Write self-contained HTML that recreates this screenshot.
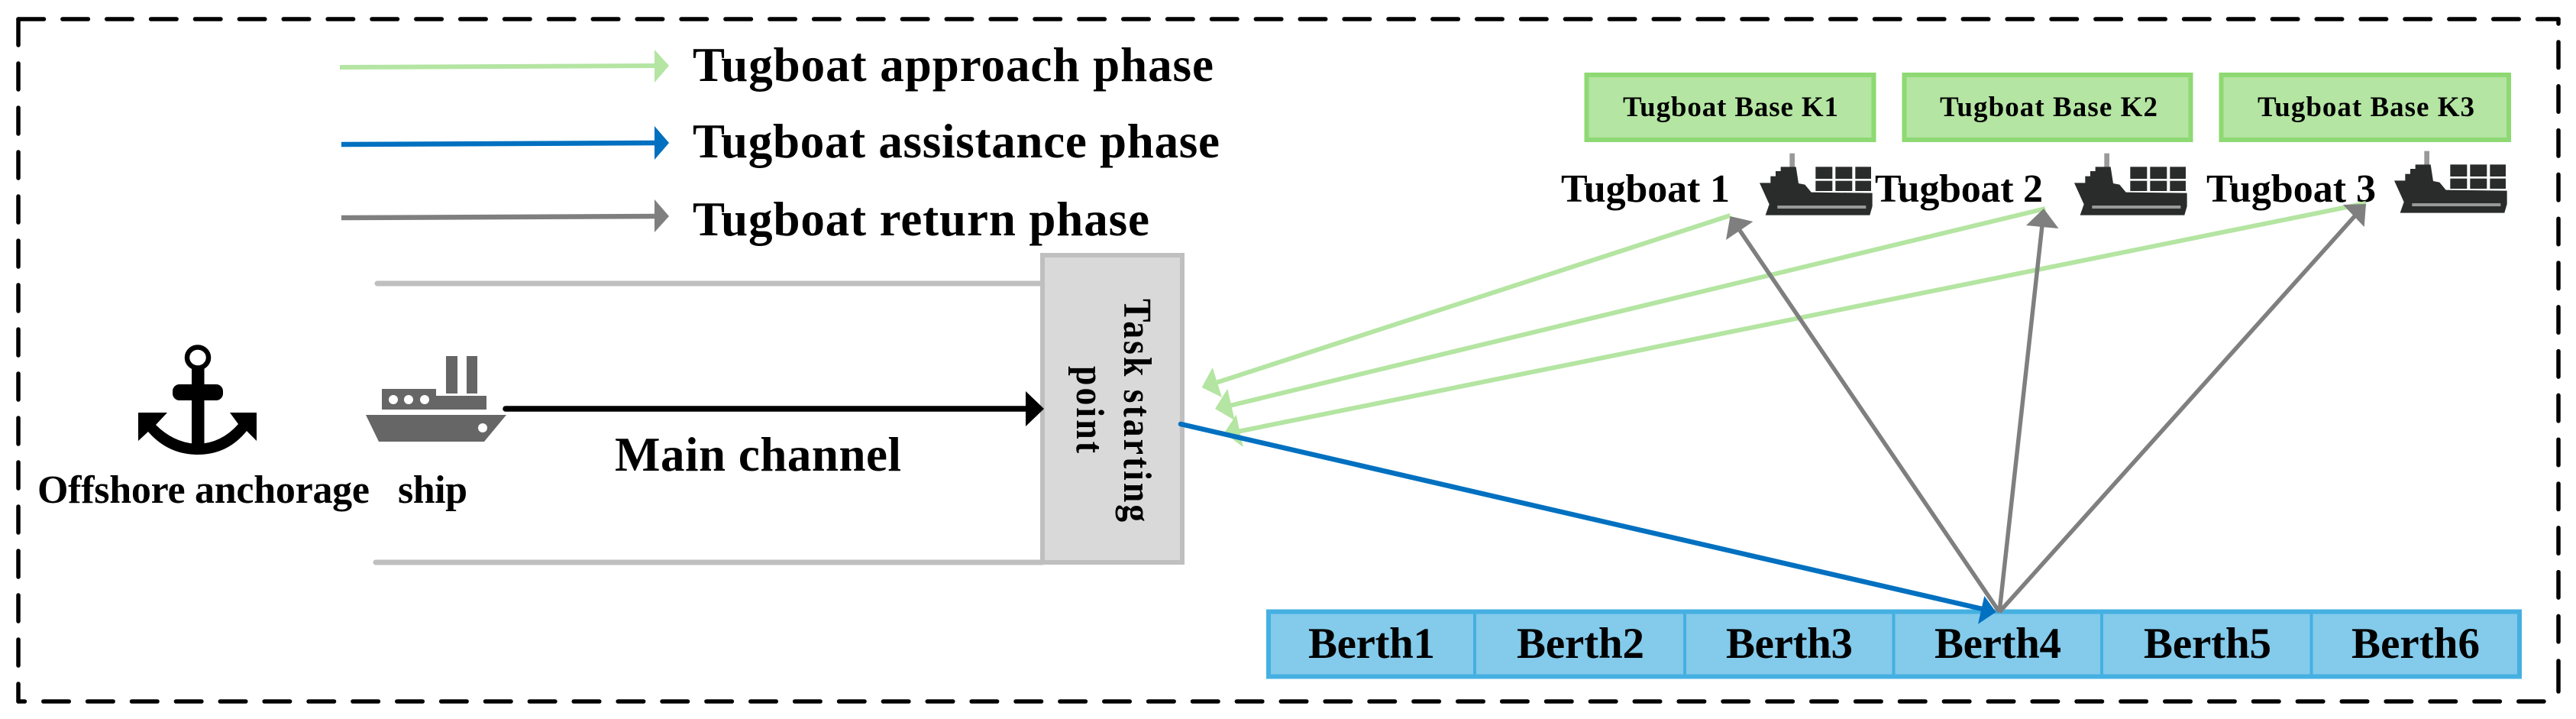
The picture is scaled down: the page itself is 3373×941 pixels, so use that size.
<!DOCTYPE html>
<html lang="en">
<head>
<meta charset="utf-8">
<title>Tugboat phases diagram</title>
<style>
html,body{margin:0;padding:0;background:#fff;}
svg{display:block;}
text{font-family:"Liberation Serif",serif;font-weight:bold;fill:#000;}
</style>
</head>
<body>
<svg xmlns="http://www.w3.org/2000/svg" width="3373" height="941" viewBox="0 0 3373 941">
<defs>
<g id="tug">
  <rect x="190" y="62" width="20" height="55" fill="#999"/>
  <polygon fill="#2a2c2c" points="72,178 115,178 115,152 135,152 135,132 155,132 155,115 215,115 225,180 250,185 275,215 515,218 515,270 505,305 95,305 110,262"/>
  <rect x="142" y="267" width="348" height="12" fill="#999"/>
  <g fill="#2a2c2c">
    <rect x="292" y="115" width="66" height="47"/><rect x="370" y="115" width="66" height="47"/><rect x="448" y="115" width="62" height="47"/>
    <rect x="292" y="170" width="66" height="40"/><rect x="370" y="170" width="66" height="40"/><rect x="448" y="170" width="62" height="40"/>
  </g>
</g>
</defs>

<!-- outer dashed frame -->
<g fill="none" stroke="#000" stroke-width="5.5" stroke-linecap="round">
  <line x1="24" y1="25" x2="3350" y2="25" stroke-dasharray="33.5 24.37"/>
  <line x1="24" y1="25" x2="24" y2="918" stroke-dasharray="34 24"/>
  <line x1="24" y1="918" x2="3331" y2="918" stroke-dasharray="33.5 24.375" stroke-dashoffset="25.1"/>
  <line x1="3350" y1="25" x2="3350" y2="31"/>
  <line x1="3350" y1="55" x2="3350" y2="845" stroke-dasharray="33.5 24.3"/>
  <line x1="3350" y1="865" x2="3350" y2="905"/>
</g>

<!-- legend -->
<line x1="445" y1="88" x2="860" y2="86" stroke="#b4e5a2" stroke-width="6"/>
<polygon points="876,86 857,65 857,108" fill="#b4e5a2"/>
<line x1="447" y1="189" x2="860" y2="187" stroke="#0070c0" stroke-width="6.5"/>
<polygon points="876,187 857,165 857,209" fill="#0070c0"/>
<line x1="447" y1="285" x2="860" y2="283" stroke="#7f7f7f" stroke-width="6.5"/>
<polygon points="876,283 857,261 857,304" fill="#7f7f7f"/>
<text x="907" y="106" font-size="63" textLength="682" lengthAdjust="spacing">Tugboat approach phase</text>
<text x="907" y="206" font-size="63" textLength="690" lengthAdjust="spacing">Tugboat assistance phase</text>
<text x="907" y="308" font-size="63" textLength="598" lengthAdjust="spacing">Tugboat return phase</text>

<!-- channel -->
<line x1="494" y1="371" x2="1365" y2="371" stroke="#bfbfbf" stroke-width="7" stroke-linecap="round"/>
<line x1="492" y1="736" x2="1365" y2="736" stroke="#bfbfbf" stroke-width="7" stroke-linecap="round"/>
<rect x="1365" y="334" width="183" height="402" fill="#d9d9d9" stroke="#bfbfbf" stroke-width="6"/>
<text transform="translate(1472,391) rotate(90) scale(.88,1)" font-size="52" textLength="332" lengthAdjust="spacing">Task starting</text>
<text transform="translate(1410,479) rotate(90) scale(.88,1)" font-size="52" textLength="129.5" lengthAdjust="spacing">point</text>

<!-- anchor -->
<g fill="#000">
  <ellipse cx="259" cy="468" rx="14" ry="13.5" fill="none" stroke="#000" stroke-width="6.5"/>
  <rect x="251" y="480" width="16.5" height="112"/>
  <rect x="226" y="503" width="66" height="21" rx="9"/>
  <path d="M181,540 L219,540 L204,556 Q228,580 259,581 Q290,580 312,555 L301,540 L336,540 L336,577 L323,564 Q298,595 259,595 Q220,595 194,565 L181,577 Z"/>
</g>

<!-- ship -->
<g fill="#666">
  <rect x="584" y="466" width="15" height="49"/>
  <rect x="611" y="466" width="14" height="49"/>
  <polygon points="500,509 571,509 571,518 637,518 637,536 500,536"/>
  <polygon points="479,543 663,543 634,578 496,578"/>
</g>
<g fill="#fff">
  <circle cx="515" cy="523" r="6"/><circle cx="535" cy="523" r="6"/><circle cx="556" cy="523" r="6"/>
  <circle cx="632" cy="560" r="6"/>
</g>

<!-- main arrow -->
<line x1="662" y1="535" x2="1348" y2="535" stroke="#000" stroke-width="7.5" stroke-linecap="round"/>
<polygon points="1367,535 1343,512 1343,558" fill="#000"/>

<text x="805" y="616" font-size="63" textLength="375" lengthAdjust="spacing">Main channel</text>
<text x="49" y="658" font-size="52" textLength="435" lengthAdjust="spacing">Offshore anchorage</text>
<text x="521" y="658" font-size="52" textLength="91" lengthAdjust="spacing">ship</text>

<!-- tugboat bases -->
<g fill="#b4e5a2" stroke="#8ed973" stroke-width="6">
  <rect x="2077.5" y="98" width="376" height="85"/>
  <rect x="2493.5" y="98" width="375" height="85"/>
  <rect x="2908.5" y="98" width="376.5" height="85"/>
</g>
<text x="2125" y="152" font-size="37" textLength="282" lengthAdjust="spacing">Tugboat Base K1</text>
<text x="2540" y="152" font-size="37" textLength="285" lengthAdjust="spacing">Tugboat Base K2</text>
<text x="2956" y="152" font-size="37" textLength="284" lengthAdjust="spacing">Tugboat Base K3</text>

<!-- tugboat labels and icons -->
<text x="2044" y="264" font-size="52" textLength="221" lengthAdjust="spacing">Tugboat 1</text>
<text x="2455" y="264" font-size="52" textLength="220" lengthAdjust="spacing">Tugboat 2</text>
<text x="2889" y="264" font-size="52" textLength="222" lengthAdjust="spacing">Tugboat 3</text>
<use href="#tug" transform="translate(2280,180) scale(.3333)"/>
<use href="#tug" transform="translate(2692,180) scale(.3333)"/>
<use href="#tug" transform="translate(3111,177) scale(.3333)"/>

<!-- berths -->
<rect x="1661" y="800.5" width="1638" height="85" fill="#83caeb" stroke="#45b0e1" stroke-width="6"/>
<g stroke="#45b0e1" stroke-width="4">
  <line x1="1931" y1="798" x2="1931" y2="888"/>
  <line x1="2206" y1="798" x2="2206" y2="888"/>
  <line x1="2479.5" y1="798" x2="2479.5" y2="888"/>
  <line x1="2752" y1="798" x2="2752" y2="888"/>
  <line x1="3026.5" y1="798" x2="3026.5" y2="888"/>
</g>
<text x="1713" y="861" font-size="57" textLength="166" lengthAdjust="spacing">Berth1</text>
<text x="1986" y="861" font-size="57" textLength="167" lengthAdjust="spacing">Berth2</text>
<text x="2260" y="861" font-size="57" textLength="166" lengthAdjust="spacing">Berth3</text>
<text x="2533" y="861" font-size="57" textLength="166" lengthAdjust="spacing">Berth4</text>
<text x="2807" y="861" font-size="57" textLength="167" lengthAdjust="spacing">Berth5</text>
<text x="3079" y="861" font-size="57" textLength="168" lengthAdjust="spacing">Berth6</text>

<!-- green approach arrows -->
<g stroke="#b4e5a2" stroke-width="6" fill="none">
  <line x1="1592" y1="501" x2="2265.5" y2="282"/>
  <line x1="1610" y1="531" x2="2678" y2="273"/>
  <line x1="1620" y1="565" x2="3098" y2="266"/>
</g>
<g fill="#b4e5a2">
  <polygon points="1587.7,481 1573.7,507 1600,520"/>
  <polygon points="1607.3,509 1591,535 1616.7,550"/>
  <polygon points="1618.7,542.7 1603,566.7 1627.7,585"/>
</g>

<!-- blue assistance arrow -->
<line x1="1546" y1="555" x2="2600" y2="798" stroke="#0070c0" stroke-width="6.5" stroke-linecap="round"/>
<polygon points="2613.5,801 2598.3,780 2590,816.7" fill="#0070c0"/>

<!-- gray return arrows -->
<g stroke="#7f7f7f" stroke-width="5.5" fill="none">
  <line x1="2618" y1="801" x2="2277" y2="300"/>
  <line x1="2618" y1="801" x2="2674" y2="295"/>
  <line x1="2618" y1="801" x2="3084" y2="282"/>
</g>
<g fill="#7f7f7f">
  <polygon points="2265.5,283 2295.4,290 2260,314"/>
  <polygon points="2676,273 2653,295 2695.5,299"/>
  <polygon points="3098,267 3068,268 3095.7,297"/>
</g>
</svg>
</body>
</html>
